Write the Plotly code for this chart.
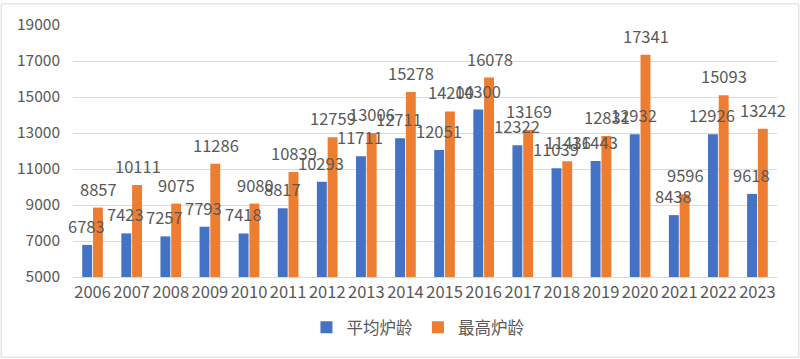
import plotly.graph_objects as go

years = [str(y) for y in range(2006, 2024)]
avg_age = [6783, 7423, 7257, 7793, 7418, 8817, 10293, 11711, 12711, 12051,
           14300, 12322, 11039, 11443, 12932, 8438, 12926, 9618]
max_age = [8857, 10111, 9075, 11286, 9080, 10839, 12759, 13006, 15278, 14200,
           16078, 13169, 11436, 12831, 17341, 9596, 15093, 13242]
series_names = ["平均炉龄", "最高炉龄"]
y_ticks = [5000, 7000, 9000, 11000, 13000, 15000, 17000, 19000]

BLUE = "#4472C4"
ORANGE = "#ED7D31"
GRAY = "#595959"
FONT = "Noto Sans CJK SC, Liberation Sans, sans-serif"

fig = go.Figure()
fig.add_trace(go.Bar(x=years, y=[v - 5000 for v in avg_age], base=5000,
                     name=series_names[0], marker_color=BLUE,
                     marker_line_width=0, hoverinfo="skip"))
fig.add_trace(go.Bar(x=years, y=[v - 5000 for v in max_age], base=5000,
                     name=series_names[1], marker_color=ORANGE,
                     marker_line_width=0, hoverinfo="skip"))

annotations = []
for i, yr in enumerate(years):
    for vals, shift in ((avg_age, -6), (max_age, 6)):
        annotations.append(dict(x=i, y=vals[i], xref="x", yref="y",
                                text=str(vals[i]), showarrow=False,
                                xshift=shift, yshift=19,
                                font=dict(size=16.5, color=GRAY, family=FONT)))

fig.update_layout(
    width=800, height=359,
    margin=dict(l=73, r=23, t=22, b=82),
    paper_bgcolor="white", plot_bgcolor="white",
    barmode="group", bargap=0.45, bargroupgap=0.08,
    font=dict(family=FONT, size=15, color=GRAY),
    showlegend=True,
    legend=dict(orientation="h", x=0.49, xanchor="center", y=-0.2, yanchor="middle",
                font=dict(size=16.5, color=GRAY), itemwidth=30, traceorder="normal"),
    annotations=annotations,
    shapes=[dict(type="rect", xref="paper", yref="paper", x0=-0.102, x1=1.031,
                 y0=-0.318, y1=1.084, line=dict(color="#d9d9d9", width=1))],
)
fig.update_yaxes(range=[5000, 19000], tickvals=y_ticks, tickformat="d",
                 showgrid=True, gridcolor="#d9d9d9", gridwidth=1, zeroline=False,
                 ticks="", tickfont=dict(size=15.5, color=GRAY, family=FONT),
                 ticklabelstandoff=12, fixedrange=True)
fig.update_xaxes(type="category", range=[-0.5, len(years) - 0.5],
                 showgrid=False, showline=True, linecolor="#d9d9d9",
                 tickfont=dict(size=16.5, color=GRAY, family=FONT), ticks="",
                 fixedrange=True)

fig.write_html("out.html", config={"displayModeBar": False},
               post_script="document.body.style.margin='0';")
